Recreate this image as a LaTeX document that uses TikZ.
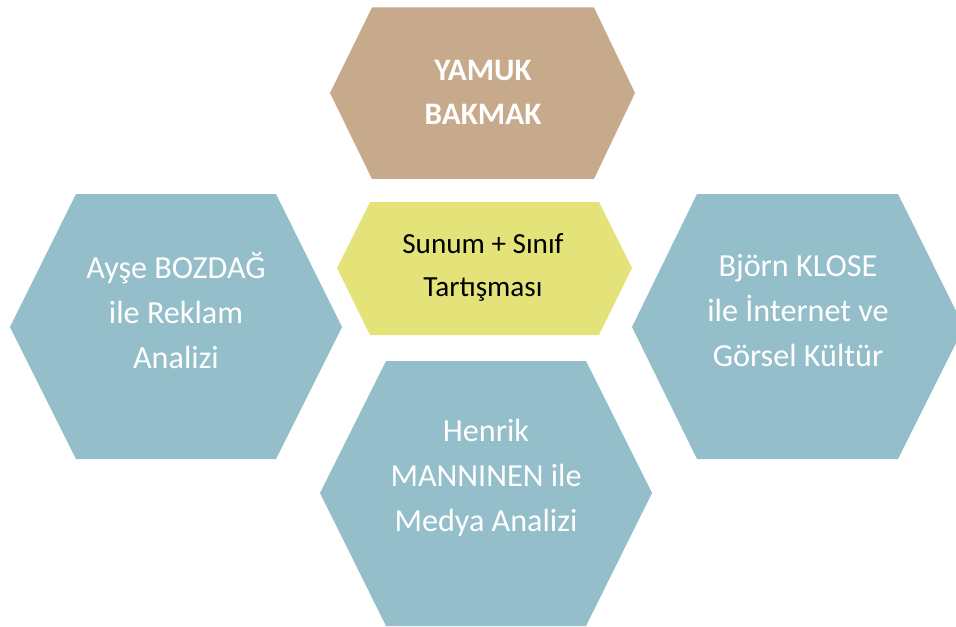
\documentclass[tikz,border=0pt]{standalone}
\usepackage{fontspec}
\setmainfont{Carlito}
\definecolor{hextan}{RGB}{199,169,139}
\definecolor{hexblue}{RGB}{147,190,202}
\definecolor{hexyellow}{RGB}{227,227,122}
\tikzstyle{hex}=[draw=none]
\tikzstyle{tan hex}=[hex, fill=hextan]
\tikzstyle{blue hex}=[hex, fill=hexblue]
\tikzstyle{yellow hex}=[hex, fill=hexyellow]
\tikzstyle{hex text}=[align=center, inner sep=0, font=\fontsize{18.3}{25.6}\selectfont]
\tikzstyle{light text}=[hex text, text=white]

\begin{document}
\begin{tikzpicture}
      \useasboundingbox (0, 0) rectangle (19.12, 12.52);
      \clip (0, 0) rectangle (19.12, 12.52);

      % top
      \fill[tan hex] (6.60, 10.66) -- (7.44, 12.37) -- (11.88, 12.37)
        -- (12.70, 10.66) -- (11.88, 8.94) -- (7.44, 8.94) -- cycle;
      \node[light text, font=\fontsize{17.8}{25}\selectfont\bfseries] (yamuk) at (9.66, 10.68) {YAMUK\\BAKMAK};

      % centre
      \fill[yellow hex] (6.74, 7.16) -- (7.40, 8.48) -- (11.98, 8.48)
        -- (12.64, 7.16) -- (11.98, 5.82) -- (7.40, 5.82) -- cycle;
      \node[hex text, font=\fontsize{16.6}{24.4}\selectfont] (sunum) at (9.66, 7.17) {Sunum + Sınıf\\Tartışması};

      % left
      \fill[blue hex] (0.20, 5.98) -- (1.52, 8.64) -- (5.52, 8.64)
        -- (6.84, 5.98) -- (5.52, 3.34) -- (1.52, 3.34) -- cycle;
      \node[light text] (bozdag) at (3.52, 6.30) {Ayşe BOZDAĞ\\ile Reklam\\Analizi};

      % right
      \fill[blue hex] (12.64, 5.98) -- (13.94, 8.64) -- (17.96, 8.64)
        -- (19.28, 5.98) -- (17.96, 3.34) -- (13.94, 3.34) -- cycle;
      \node[light text] (klose) at (15.96, 6.30) {Björn KLOSE\\ile İnternet ve\\Görsel Kültür};

      % bottom
      \fill[blue hex] (6.40, 2.66) -- (7.72, 5.30) -- (11.72, 5.30)
        -- (13.04, 2.66) -- (11.72, 0) -- (7.72, 0) -- cycle;
      \node[light text] (manninen) at (9.72, 2.96) {Henrik\\MANNINEN ile\\Medya Analizi};
\end{tikzpicture}
\end{document}
